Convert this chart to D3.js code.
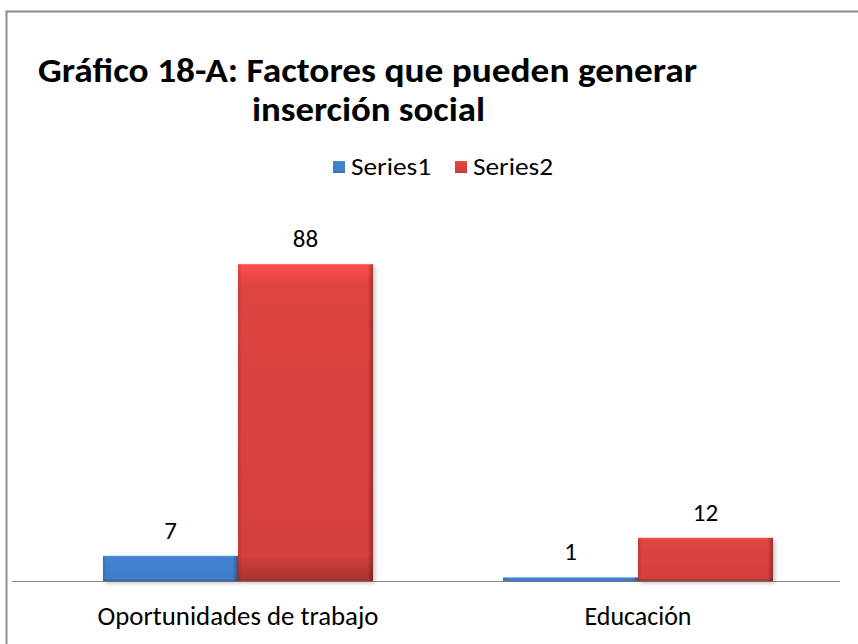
<!DOCTYPE html>
<html>
<head>
<meta charset="utf-8">
<script src="https://cdn.jsdelivr.net/npm/d3@7"></script>
<style>
  body { margin: 0; background: #fff; }
  svg { display: block; font-family: Carlito, Calibri, Lato, "Open Sans", sans-serif; }
</style>
</head>
<body>
<svg id="chart" width="858" height="644"></svg>
<script>
// data
const categories = ['Oportunidades de trabajo', 'Educación'];
const seriesNames = ['Series1', 'Series2'];
const series1 = [7, 1];
const series2 = [88, 12];
const colors = { Series1: '#3f7cc6', Series2: '#d4403c' };

const W = 858, H = 644;
const svg = d3.select('#chart');

// outer frame
svg.append('rect')
  .attr('x', 6.5).attr('y', 11.5)
  .attr('width', 880).attr('height', 700)
  .attr('fill', '#fff')
  .attr('stroke', '#8c8c8c').attr('stroke-width', 2);

const baseline = 581;

const x0 = d3.scaleBand().domain(categories).range([38, 838]).paddingInner(0).paddingOuter(0);
const x1 = d3.scaleBand().domain(seriesNames).range([0, x0.bandwidth()]).paddingInner(0).paddingOuter(0.4815);
const y = d3.scaleLinear().domain([0, 100]).range([baseline, baseline - 360]);

// gradients for a bevelled look
const defs = svg.append('defs');
seriesNames.forEach(s => {
  const base = d3.color(colors[s]);
  const g = defs.append('linearGradient').attr('id', 'g-' + s).attr('x1', 0).attr('x2', 0).attr('y1', 0).attr('y2', 1);
  g.append('stop').attr('offset', '0%').attr('stop-color', base.brighter(0.6));
  g.append('stop').attr('offset', '6%').attr('stop-color', base.brighter(0.15));
  g.append('stop').attr('offset', '92%').attr('stop-color', base);
  g.append('stop').attr('offset', '100%').attr('stop-color', base.darker(0.7));
  const gs = defs.append('linearGradient').attr('id', 'gs-' + s).attr('x1', 0).attr('x2', 1).attr('y1', 0).attr('y2', 0);
  gs.append('stop').attr('offset', '0%').attr('stop-color', '#000').attr('stop-opacity', 0.12);
  gs.append('stop').attr('offset', '3%').attr('stop-color', '#000').attr('stop-opacity', 0);
  gs.append('stop').attr('offset', '96%').attr('stop-color', '#000').attr('stop-opacity', 0);
  gs.append('stop').attr('offset', '100%').attr('stop-color', '#000').attr('stop-opacity', 0.3);
});
const shadow = defs.append('filter').attr('id', 'shadow').attr('x', '-10%').attr('y', '-10%').attr('width', '130%').attr('height', '130%');
shadow.append('feDropShadow').attr('dx', 2).attr('dy', 2).attr('stdDeviation', 2).attr('flood-color', '#000').attr('flood-opacity', 0.25);

const rows = [];
categories.forEach((c, i) => {
  rows.push({ cat: c, s: 'Series1', v: series1[i] });
  rows.push({ cat: c, s: 'Series2', v: series2[i] });
});

// axis line
svg.append('line')
  .attr('x1', 12).attr('x2', 840)
  .attr('y1', baseline + 0.5).attr('y2', baseline + 0.5)
  .attr('stroke', '#888').attr('stroke-width', 1);

const bars = svg.append('g').selectAll('g.bar').data(rows).join('g').attr('class', 'bar');
bars.append('rect')
  .attr('x', d => x0(d.cat) + x1(d.s))
  .attr('y', d => y(d.v))
  .attr('width', x1.bandwidth())
  .attr('height', d => baseline - y(d.v))
  .attr('fill', d => `url(#g-${d.s})`)
  .attr('filter', 'url(#shadow)');
bars.append('rect')
  .attr('x', d => x0(d.cat) + x1(d.s))
  .attr('y', d => y(d.v))
  .attr('width', x1.bandwidth())
  .attr('height', d => baseline - y(d.v))
  .attr('fill', d => `url(#gs-${d.s})`);

// value labels
svg.append('g').selectAll('text').data(rows).join('text')
  .attr('x', d => x0(d.cat) + x1(d.s) + x1.bandwidth() / 2)
  .attr('y', d => y(d.v) - 17)
  .attr('text-anchor', 'middle')
  .attr('font-size', 25)
  .attr('fill', '#000')
  .text(d => d.v);

// category labels
const catWidths = [281, 107];
svg.append('g').selectAll('text').data(categories).join('text')
  .attr('x', d => x0(d) + x0.bandwidth() / 2)
  .attr('y', 625)
  .attr('text-anchor', 'middle')
  .attr('font-size', 26)
  .attr('textLength', (d, i) => catWidths[i])
  .attr('lengthAdjust', 'spacingAndGlyphs')
  .attr('fill', '#000')
  .text(d => d);

// title
const title = svg.append('g')
  .attr('font-size', 34)
  .attr('font-weight', 700)
  .attr('fill', '#000');
title.append('text').attr('x', 38).attr('y', 82)
  .attr('textLength', 659).attr('lengthAdjust', 'spacingAndGlyphs')
  .text('Gráfico 18-A: Factores que pueden generar');
title.append('text').attr('x', 252).attr('y', 121)
  .attr('textLength', 233).attr('lengthAdjust', 'spacingAndGlyphs')
  .text('inserción social');

// legend
const legend = svg.append('g');
const legX = [333, 455];
seriesNames.forEach((s, i) => {
  legend.append('rect')
    .attr('x', legX[i]).attr('y', 161)
    .attr('width', 12).attr('height', 12)
    .attr('fill', `url(#g-${s})`);
  legend.append('text')
    .attr('x', legX[i] + 18).attr('y', 175)
    .attr('font-size', 24)
    .attr('textLength', 80).attr('lengthAdjust', 'spacingAndGlyphs')
    .attr('fill', '#000')
    .text(s);
});
</script>
</body>
</html>
